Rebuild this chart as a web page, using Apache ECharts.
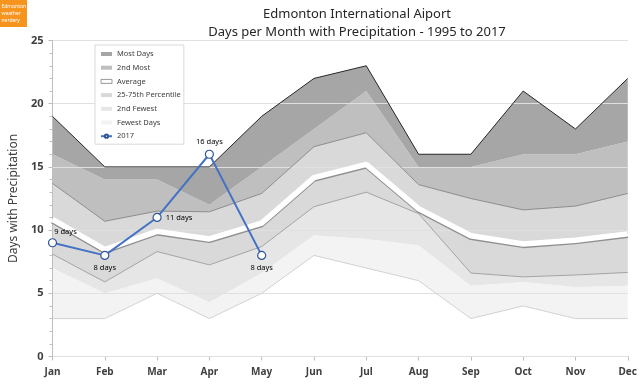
<!DOCTYPE html>
<html><head><meta charset="utf-8">
<script src="https://cdn.jsdelivr.net/npm/echarts@6/dist/echarts.min.js"></script>
<style>html,body{margin:0;padding:0;background:#fff}#c{width:640px;height:388px}</style>
</head><body><div id="c"></div>
<script>
const months = ['Jan','Feb','Mar','Apr','May','Jun','Jul','Aug','Sep','Oct','Nov','Dec'];
const mostDays     = [19, 15, 15, 15, 19, 22, 23, 16, 16, 21, 18, 22];
const mostYears    = ['2011','2003','2006','1995','1996','2007','1996','2005','1996','2009','1996','2013'];
const secondMost   = [16, 14, 14, 12, 15, 18, 21, 15, 15, 16, 16, 17];
const pct75        = [13.7, 10.7, 11.5, 11.45, 12.9, 16.6, 17.7, 13.6, 12.5, 11.6, 11.9, 12.9];
const average      = [10.85, 8.45, 9.9, 9.3, 10.55, 14.15, 15.2, 11.7, 9.55, 8.9, 9.2, 9.7];
const pct25        = [8.1, 5.9, 8.3, 7.25, 8.7, 11.85, 13.0, 11.3, 6.6, 6.3, 6.45, 6.65];
const secondFewest = [7.0, 5.0, 6.2, 4.3, 6.6, 9.6, 9.3, 8.8, 5.6, 5.9, 5.5, 5.6];
const fewestDays   = [3, 3, 5, 3, 5, 8, 7, 6, 3, 4, 3, 3];
const days2017     = [9, 8, 11, 16, 8];
const yTicks = [0, 5, 10, 15, 20, 25];

// label placement (style only)
const yearLabelPos = [
  {position:'top', offset:[12,0]}, {position:'top', offset:[9,0]}, {position:'top'},
  {position:'bottom'}, {position:'top', offset:[-7,0]}, {position:'left', distance:3},
  {position:'top'}, {position:'top', offset:[8,0]}, {position:'top', offset:[-6,0]},
  {position:'top'}, {position:'top', distance:6}, {position:'top', offset:[-4,0]}
];
const pts2017Pos = [
  {position:'top', offset:[13,2]}, {position:'bottom'}, {position:'right'},
  {position:'top'}, {position:'bottom'}
];

const FF = '"Noto Sans", "Open Sans", sans-serif';
const diff = (a, b) => a.map((v, i) => +(v - b[i]).toFixed(3));

const chart = echarts.init(document.getElementById('c'), null, {renderer:'canvas'});

function band(name, data, color) {
  return {name, type:'line', stack:'s', data, symbol:'none', silent:true,
    lineStyle:{width:0}, itemStyle:{color}, areaStyle:{color, opacity:1}, z:1};
}
function edge(name, data, color, extra) {
  return Object.assign({name, type:'line', data, symbol:'none', silent:true,
    lineStyle:{color, width:1}, itemStyle:{color}, z:3}, extra || {});
}

const option = {
  animation:false,
  title:{
    text:'Edmonton International Aiport\nDays per Month with Precipitation - 1995 to 2017',
    left:352, top:0, textAlign:'center',
    textStyle:{fontFamily:FF, fontSize:13, fontWeight:'normal', color:'#262626', lineHeight:18}
  },
  graphic:[
    {type:'rect', shape:{x:0, y:0, width:27, height:27}, style:{fill:'#f7941d'}},
    {type:'text', left:1.5, top:3, style:{text:'Edmonton\nweather\nnerdery', fill:'#fff',
      font:'5px "Noto Sans", sans-serif', lineHeight:7}}
  ],
  legend:{
    orient:'vertical', left:95, top:45,
    padding:[5, 3, 4, 5], itemWidth:11, itemHeight:4, itemGap:5.7, itemTextGap:2,
    backgroundColor:'#fff', borderColor:'#d9d9d9', borderWidth:1,
    textStyle:{fontFamily:FF, fontSize:7.5, color:'#404040'},
    data:[
      {name:'Most Days', icon:'rect'},
      {name:'2nd Most', icon:'rect'},
      {name:'Average', icon:'rect', itemStyle:{color:'#fff', borderColor:'#7f7f7f', borderWidth:0.8}},
      {name:'25-75th Percentile', icon:'rect'},
      {name:'2nd Fewest', icon:'rect'},
      {name:'Fewest Days', icon:'rect'},
      {name:'2017'}
    ]
  },
  grid:{left:48, right:12, top:40.5, bottom:31.5, containLabel:false},
  xAxis:{
    type:'category', data:months, boundaryGap:false,
    axisLine:{lineStyle:{color:'#bfbfbf'}},
    axisTick:{show:true, length:4, lineStyle:{color:'#bfbfbf'}},
    axisLabel:{fontFamily:FF, fontSize:10, fontWeight:'bold', color:'#404040', margin:11}
  },
  yAxis:{
    type:'value', z:2, min:yTicks[0], max:yTicks[yTicks.length-1], interval:yTicks[1]-yTicks[0],
    name:'Days with Precipitation', nameLocation:'middle', nameGap:30, nameRotate:90,
    nameTextStyle:{fontFamily:FF, fontSize:12, color:'#404040'},
    axisLine:{show:true, lineStyle:{color:'#bfbfbf'}},
    axisTick:{show:true, length:4, lineStyle:{color:'#bfbfbf'}},
    minorTick:{show:true, splitNumber:5, length:3, lineStyle:{color:'#bfbfbf'}},
    splitLine:{lineStyle:{color:'#e0e0e0'}},
    axisLabel:{fontFamily:FF, fontSize:11, fontWeight:'bold', color:'#404040', margin:9}
  },
  series:[
    {name:'base', type:'line', stack:'s', data:fewestDays, symbol:'none', silent:true, lineStyle:{width:0}, z:1},
    band('Fewest Days', diff(secondFewest, fewestDays), '#f3f3f3'),
    band('2nd Fewest', diff(pct25, secondFewest), '#e6e6e6'),
    band('25-75th Percentile', diff(pct75, pct25), '#d9d9d9'),
    band('2nd Most', diff(secondMost, pct75), '#bfbfbf'),
    band('Most Days', diff(mostDays, secondMost), '#a6a6a6'),
    edge('fewLine', fewestDays, '#d2d2d2'),
    edge('p25Line', pct25, '#a3a3a3'),
    edge('p75Line', pct75, '#8c8c8c'),
    {name:'Average', type:'line', data:average, symbol:'none', silent:true, z:4,
      itemStyle:{color:'#fff'},
      lineStyle:{color:'#fff', width:5.5, shadowColor:'#909090', shadowOffsetY:1.4, shadowBlur:0}},
    edge('maxLine', mostDays.map((v, i) => ({value:v,
        label:Object.assign({show:true, formatter:mostYears[i]}, yearLabelPos[i])})),
      '#262626', {z:5, label:{show:true, fontFamily:FF, fontSize:7, color:'#000', distance:2}}),
    {name:'2017', type:'line', z:10,
      data:days2017.map((v, i) => ({value:v,
        label:Object.assign({show:true, formatter:v + ' days'}, pts2017Pos[i])})),
      symbol:'circle', symbolSize:8,
      lineStyle:{color:'#4472c4', width:2},
      itemStyle:{color:'#fff', borderColor:'#2f5597', borderWidth:1.2},
      label:{show:true, fontFamily:FF, fontSize:7.5, color:'#000', distance:4}
    }
  ]
};
chart.setOption(option);
</script></body></html>
